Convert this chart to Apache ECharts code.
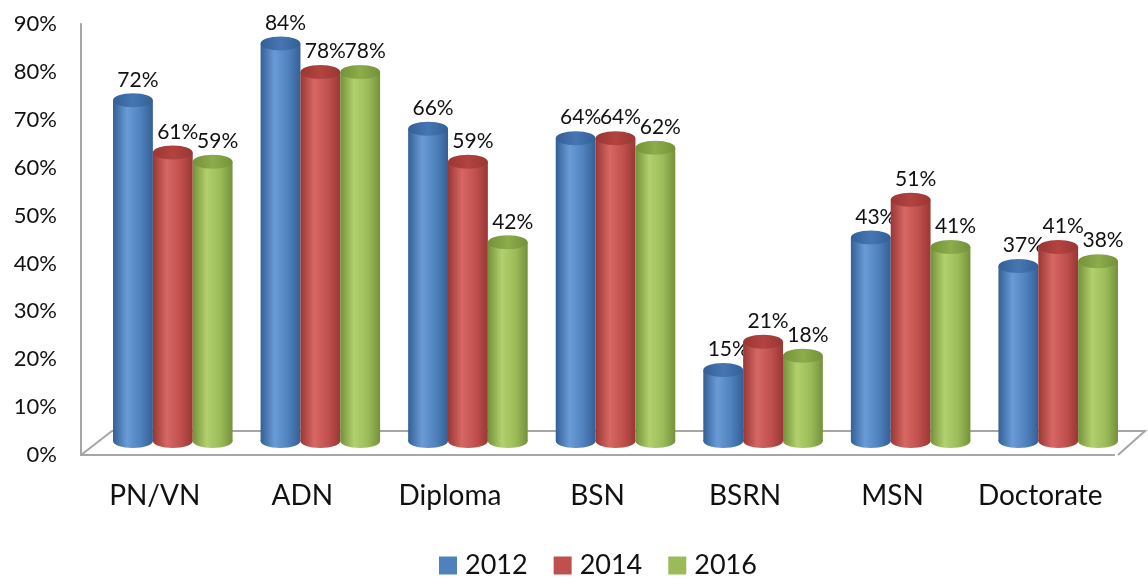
<!DOCTYPE html>
<html>
<head>
<meta charset="utf-8">
<script src="https://cdn.jsdelivr.net/npm/echarts@6/dist/echarts.min.js"></script>
<style>
    html, body { margin: 0; padding: 0; background: #fff; }
    #chart { width: 1148px; height: 579px; }
</style>
</head>
<body>
<div id="chart"></div>
<script>
    var categories = ['PN/VN', 'ADN', 'Diploma', 'BSN', 'BSRN', 'MSN', 'Doctorate'];
    var years = ['2012', '2014', '2016'];
    var values2012 = [72, 84, 66, 64, 15, 43, 37];
    var values2014 = [61, 78, 59, 64, 21, 51, 41];
    var values2016 = [59, 78, 42, 62, 18, 41, 38];
    var yTicks = [0, 10, 20, 30, 40, 50, 60, 70, 80, 90];

    var font = 'Lato, "Open Sans", sans-serif';
    var palette = [
        { base: '#4f81bd', light: '#6a9bd6', dark: '#345f96', cap: '#4676b2' },
        { base: '#c0504d', light: '#d66763', dark: '#993734', cap: '#b3433f' },
        { base: '#9bbb59', light: '#b2d06d', dark: '#74913a', cap: '#8cad4a' }
    ];

    // fake 3D look: cylinders sit back & right of the front axis
    var shiftX = 18, shiftY = -14, depth = 0.988, ry = 7;

    function cylinder(si) {
        var c = palette[si];
        return function (params, api) {
            var idx = api.value(0), v = api.value(1);
            var base = api.coord([idx, 0]);
            var top = api.coord([idx, v]);
            var band = api.size([1, 0])[0];
            var w = band * 0.27;
            var cx = base[0] + (si - 1) * w + shiftX;
            var y0 = base[1] + shiftY;
            var y1 = y0 - (base[1] - top[1]) * depth;
            var body = new echarts.graphic.LinearGradient(0, 0, 1, 0, [
                { offset: 0, color: c.dark },
                { offset: 0.35, color: c.light },
                { offset: 0.7, color: c.base },
                { offset: 1, color: c.dark }
            ]);
            var capFill = new echarts.graphic.LinearGradient(0, 0, 1, 0, [
                { offset: 0, color: c.dark },
                { offset: 0.5, color: c.cap },
                { offset: 1, color: c.dark }
            ]);
            return {
                type: 'group',
                children: [
                    { type: 'ellipse', shape: { cx: cx, cy: y0, rx: w / 2, ry: ry }, style: { fill: body } },
                    { type: 'rect', shape: { x: cx - w / 2, y: y1, width: w, height: y0 - y1 }, style: { fill: body } },
                    { type: 'ellipse', shape: { cx: cx, cy: y1, rx: w / 2, ry: ry }, style: { fill: capFill } },
                    {
                        type: 'text',
                        style: {
                            text: v + '%', x: cx + 5, y: y1 - ry - 3,
                            align: 'center', verticalAlign: 'bottom',
                            font: '21px ' + font, fill: '#111'
                        }
                    }
                ]
            };
        };
    }

    var lists = [values2012, values2014, values2016];
    var series = years.map(function (y, si) {
        return {
            name: y,
            type: 'custom',
            itemStyle: { color: palette[si].base },
            renderItem: cylinder(si),
            data: lists[si].map(function (v, i) { return [i, v]; }),
            z: 3
        };
    });

    var grid = { left: 81, right: 34, top: 24, bottom: 124 };

    var option = {
        animation: false,
        grid: grid,
        color: palette.map(function (p) { return p.base; }),
        legend: {
            top: 547,
            left: 434,
            itemWidth: 18,
            itemHeight: 18,
            itemGap: 26,
            icon: 'rect',
            textStyle: { fontFamily: font, fontSize: 27, color: '#111', padding: [0, 0, 0, 3] },
            data: years
        },
        xAxis: {
            type: 'category',
            data: categories,
            axisLine: { lineStyle: { color: '#a6a6a6', width: 2 } },
            axisTick: { show: false },
            axisLabel: { fontFamily: font, fontSize: 28, color: '#111', margin: 27, interval: 0 }
        },
        yAxis: {
            type: 'value',
            min: 0,
            max: 90,
            interval: 10,
            splitLine: { show: false },
            axisLine: { show: true, lineStyle: { color: '#a6a6a6', width: 2 } },
            axisTick: { show: false },
            axisLabel: {
                fontFamily: font, fontSize: 22, color: '#111', margin: 24,
                formatter: function (v) { return yTicks.indexOf(v) >= 0 ? v + '%' : ''; }
            }
        },
        series: series
    };

    var chart = echarts.init(document.getElementById('chart'));
    chart.setOption(option);

    // floor outline
    (function () {
        var W = chart.getWidth(), H = chart.getHeight();
        var x0 = grid.left, x1 = W - grid.right, y0 = H - grid.bottom;
        var dx = 31, dy = -24;
        chart.setOption({
            graphic: [{
                type: 'polyline',
                shape: { points: [[x0, y0], [x0 + dx, y0 + dy], [x1 + dx, y0 + dy], [x1 + 4, y0]] },
                style: { stroke: '#a6a6a6', lineWidth: 2, fill: null },
                z: 1
            }]
        });
    })();
</script>
</body>
</html>
